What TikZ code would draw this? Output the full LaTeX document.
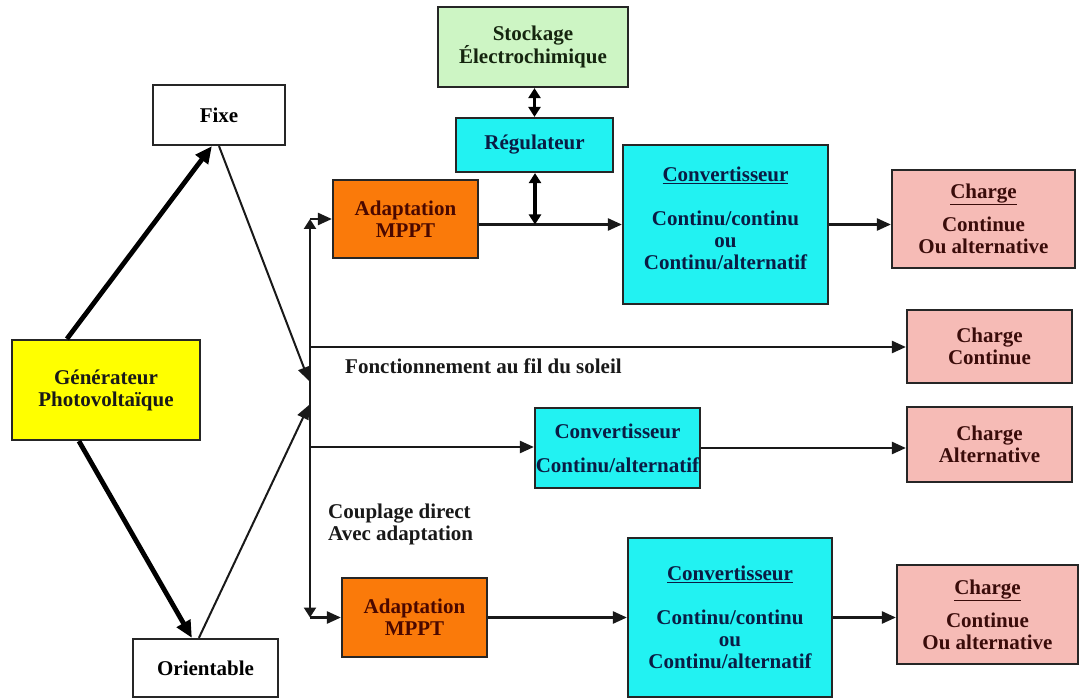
\documentclass[tikz,border=0pt]{standalone}
\usepackage{fontspec}
\setmainfont{Liberation Serif}
\usetikzlibrary{arrows.meta}
\definecolor{cgen}{HTML}{FFFF00}
\definecolor{corange}{HTML}{FA7A0A}
\definecolor{ccyan}{HTML}{22F2F2}
\definecolor{cgreen}{HTML}{CDF5C4}
\definecolor{cpink}{HTML}{F6BBB6}
\definecolor{tnavy}{HTML}{0A1C44}
\definecolor{tred}{HTML}{4A0800}
\definecolor{tbrown}{HTML}{3A0C0A}
\definecolor{tgreen}{HTML}{15250F}
\tikzset{
  box/.style={draw=black!85, line width=2.2pt, rectangle, align=center, inner sep=0pt,
    font=\fontsize{21}{22}\selectfont\bfseries},
  tip/.style={-{Triangle[length=14pt,width=12pt]}},
  bitip/.style={{Triangle[length=10pt,width=12pt]}-{Triangle[length=10pt,width=12pt]}},
  conn/.style={line width=2.4pt, black!90},
  thin/.style={line width=2pt, black!90},
  fat/.style={line width=4.8pt, black, -{Triangle[length=17pt,width=15pt]}},
  lbl/.style={font=\fontsize{21}{22}\selectfont\bfseries, inner sep=0pt, align=left, text=black!90},
}
\begin{document}
\begin{tikzpicture}[x=1pt,y=-1pt]
\useasboundingbox (0,0) rectangle (1080,698);
% boxes
\node[box, fill=white, minimum width=132, minimum height=60] (fixe) at (219,115) {Fixe};
\node[box, fill=cgen, minimum width=188, minimum height=100, text=black!90] (gen) at (106,390) {Générateur\\Photovoltaïque};
\node[box, fill=white, minimum width=145, minimum height=58] (orient) at (205.5,668) {Orientable};
\node[box, fill=corange, minimum width=145, minimum height=78, text=tred] (adapt1) at (405.5,219) {Adaptation\\MPPT};
\node[box, fill=cgreen, minimum width=190, minimum height=80, text=tgreen] (stock) at (533,47) {Stockage\\Électrochimique};
\node[box, fill=ccyan, minimum width=157, minimum height=54, text=tnavy] (regul) at (534.5,145) {Régulateur};
\node[box, fill=ccyan, minimum width=205, minimum height=159, text=tnavy] (conv1) at (725.5,224.5) {\underline{Convertisseur}\\[22pt]Continu/continu\\ou\\Continu/alternatif\\[-9pt]\mbox{}};
\node[box, fill=cpink, minimum width=183, minimum height=98, text=tbrown] (charge1) at (983.5,219) {\underline{Charge}\\[11pt]Continue\\Ou alternative};
\node[box, fill=cpink, minimum width=165, minimum height=73, text=tbrown] (chcont) at (989.5,346.5) {Charge\\Continue};
\node[box, fill=cpink, minimum width=165, minimum height=75, text=tbrown] (chalt) at (989.5,444.5) {Charge\\Alternative};
\node[box, fill=ccyan, minimum width=165, minimum height=80, text=tnavy] (conv2) at (617.5,448) {Convertisseur\\[12pt]Continu/alternatif};
\node[box, fill=corange, minimum width=145, minimum height=79, text=tred] (adapt2) at (414.5,617.5) {Adaptation\\MPPT};
\node[box, fill=ccyan, minimum width=204, minimum height=159, text=tnavy] (conv3) at (730,617.5) {\underline{Convertisseur}\\[22pt]Continu/continu\\ou\\Continu/alternatif};
\node[box, fill=cpink, minimum width=181, minimum height=99, text=tbrown] (charge3) at (987.5,614.5) {\underline{Charge}\\[11pt]Continue\\Ou alternative};
% labels
\node[lbl, anchor=west] (fonct) at (345,366) {Fonctionnement au fil du soleil};
\node[lbl, anchor=west] (coupl) at (328,524) {Couplage direct\\Avec adaptation};
% bus coordinates
\coordinate (busTop) at (310,219);
\coordinate (busBot) at (310,617.5);
\coordinate (busA) at (310,347);
\coordinate (busB) at (310,447);
\coordinate (busIn1) at (309,381);
\coordinate (busIn2) at (309,405);
\coordinate (J1) at (535,224.5);
% left arrows
\draw[fat] ([xshift=56pt]gen.north west) -- ([xshift=60pt]fixe.south west);
\draw[fat] ([xshift=68pt]gen.south west) -- ([xshift=60pt]orient.north west);
\draw[thin, tip] (fixe.south) -- (busIn1);
\draw[thin, tip] ([xshift=67pt]orient.north west) -- (busIn2);
% bus
\draw[conn, bitip] (busTop) -- (busBot);
\draw[conn, tip] (busTop) -- (adapt1.west);
\draw[conn, tip] (busBot) -- (adapt2.west);
\draw[conn, tip] (busA) -- (busA -| chcont.west);
\draw[conn, tip] (busB) -- (busB -| conv2.west);
\draw[conn, tip] (conv2.east) -- (conv2.east -| chalt.west);
% top chain
\draw[conn, tip] (adapt1.east |- J1) -- (conv1.west);
\draw[line width=3.4pt, bitip] (regul.south -| J1) -- (J1);
\draw[line width=3.4pt, bitip] (stock.south -| regul.north) -- (regul.north);
\draw[conn, tip] (conv1.east) -- (conv1.east -| charge1.west);
% bottom chain
\draw[conn, tip] (adapt2.east) -- (adapt2.east -| conv3.west);
\draw[conn, tip] (conv3.east |- adapt2.east) -- (adapt2.east -| charge3.west);
\end{tikzpicture}
\end{document}
